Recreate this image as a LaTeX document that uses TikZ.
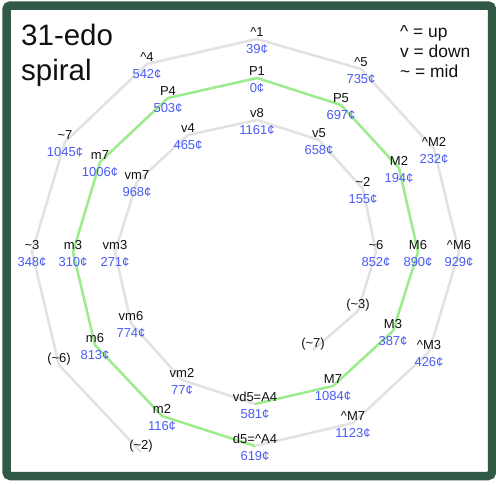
\documentclass[tikz,border=0pt]{standalone}
\usepackage{fontspec}
\setmainfont{Liberation Sans}
\usetikzlibrary{backgrounds}
\definecolor{framegreen}{HTML}{305A46}
\definecolor{lgray}{HTML}{E2E2E2}
\definecolor{lgreen}{HTML}{9CEB8C}
\definecolor{cblue}{HTML}{4A5CF5}
\definecolor{ink}{HTML}{111111}
\newcommand\pnt[5]{%
  \node[pt] (#1) at (#2,#3) {};
  \node[nm] (#1n) at ([yshift=3pt]#1.center) {#4};
  \node[ct] (#1c) at ([yshift=-14pt]#1.center) {#5};
}
\newcommand\ppnt[4]{%
  \node[pt] (#1) at (#2,#3) {};
  \node[nm] (#1n) at ([yshift=2.5pt]#1.center) {#4};
}
\begin{document}
\begin{tikzpicture}[x=1pt,y=-1pt,
  pt/.style={inner sep=0pt,minimum size=0pt,outer sep=0pt},
  nm/.style={anchor=base,inner sep=0pt,text=ink,font=\fontsize{13}{16}\selectfont},
  ct/.style={anchor=base,inner sep=0pt,text=cblue,font=\fontsize{13}{16}\selectfont},
  gline/.style={draw=lgray,line width=2.5pt,line join=round},
  hline/.style={draw=lgreen,line width=2.5pt,line join=round},
  bigtxt/.style={anchor=base west,inner sep=0pt,text=ink,font=\fontsize{29.5}{35}\selectfont},
  legtxt/.style={anchor=base west,inner sep=0pt,text=ink,font=\fontsize{17.4}{20}\selectfont},
]
\useasboundingbox (0,0) rectangle (496,485);
% outer ring
\ppnt{oii}{141}{452}{(\textasciitilde 2)}
\ppnt{ovi}{59}{365}{(\textasciitilde 6)}
\pnt{tiii}{32}{252}{\textasciitilde 3}{348¢}
\pnt{tvii}{65}{142}{\textasciitilde 7}{1045¢}
\pnt{uiv}{147}{64}{\textasciicircum 4}{542¢}
\pnt{ui}{257}{39}{\textasciicircum 1}{39¢}
\pnt{uv}{361}{69}{\textasciicircum 5}{735¢}
\pnt{uMii}{434}{149}{\textasciicircum M2}{232¢}
\pnt{uMvi}{459}{252}{\textasciicircum M6}{929¢}
\pnt{uMiii}{429}{352}{\textasciicircum M3}{426¢}
\pnt{uMvii}{353}{423}{\textasciicircum M7}{1123¢}
\pnt{dv}{255}{446}{d5=\textasciicircum A4}{619¢}
% middle ring
\pnt{mii}{162}{416}{m2}{116¢}
\pnt{mvi}{95}{345}{m6}{813¢}
\pnt{miii}{73}{252}{m3}{310¢}
\pnt{mvii}{100}{162}{m7}{1006¢}
\pnt{Piv}{168}{98}{P4}{503¢}
\pnt{Pi}{257}{78}{P1}{0¢}
\pnt{Pv}{341}{105}{P5}{697¢}
\pnt{Mii}{399}{168}{M2}{194¢}
\pnt{Mvi}{418}{252}{M6}{890¢}
\pnt{Miii}{393}{331}{M3}{387¢}
\pnt{Mvii}{333}{386}{M7}{1084¢}
\pnt{vdv}{255}{404}{vd5=A4}{581¢}
% inner ring
\pnt{vmii}{182}{380}{vm2}{77¢}
\pnt{vmvi}{131}{323}{vm6}{774¢}
\pnt{vmiii}{115}{252}{vm3}{271¢}
\pnt{vmvii}{137}{182}{vm7}{968¢}
\pnt{viv}{188}{135}{v4}{465¢}
\pnt{viii}{257}{120}{v8}{1161¢}
\pnt{vv}{319}{140}{v5}{658¢}
\pnt{tii}{363}{189}{\textasciitilde 2}{155¢}
\pnt{tvi}{376}{252}{\textasciitilde 6}{852¢}
\ppnt{oiii}{358}{311}{(\textasciitilde 3)}
\ppnt{ovii}{313}{350}{(\textasciitilde 7)}
% title and legend
\node[bigtxt] (title1) at (21,45) {31-edo};
\node[bigtxt] (title2) at (21,80) {spiral};
\node[legtxt] (leg1) at (400,37) {\textasciicircum{} = up};
\node[legtxt] (leg2) at (400,57) {v = down};
\node[legtxt] (leg3) at (400,77) {\textasciitilde{} = mid};
\begin{scope}[on background layer]
\fill[white] (0,0) rectangle (496,485);
\draw[gline] (oii) -- (ovi) -- (tiii) -- (tvii) -- (uiv) -- (ui) -- (uv) -- (uMii) -- (uMvi) -- (uMiii) -- (uMvii) -- (dv);
\draw[hline] (dv) -- (mii) -- (mvi) -- (miii) -- (mvii) -- (Piv) -- (Pi) -- (Pv) -- (Mii) -- (Mvi) -- (Miii) -- (Mvii) -- (vdv);
\draw[gline] (vdv) -- (vmii) -- (vmvi) -- (vmiii) -- (vmvii) -- (viv) -- (viii) -- (vv) -- (tii) -- (tvi) -- (oiii) -- (ovii);
\end{scope}
\draw[framegreen,line width=8.5pt,rounded corners=4pt] (6.5,5.5) rectangle (492,476);
\end{tikzpicture}
\end{document}
